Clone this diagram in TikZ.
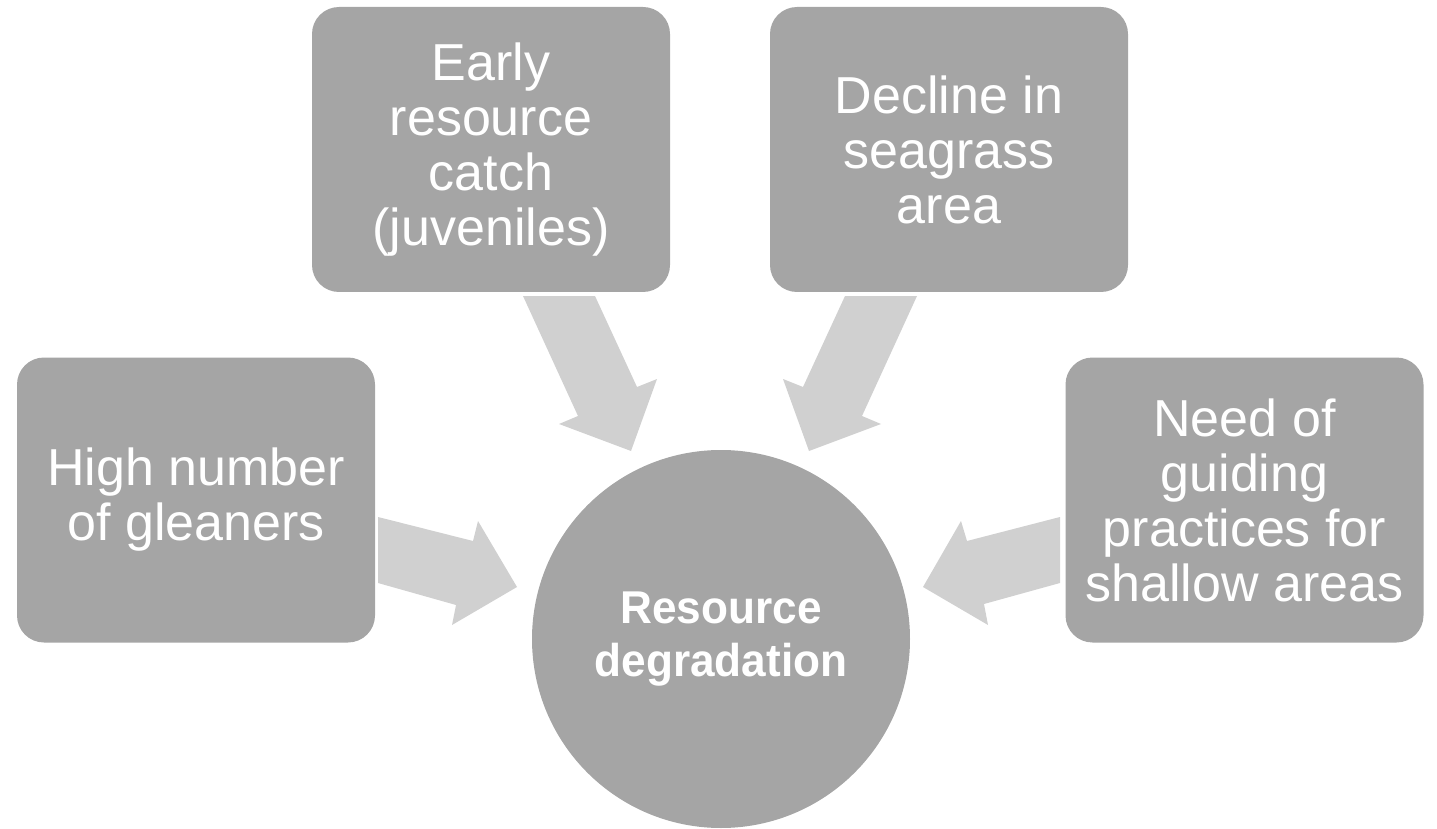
\documentclass[tikz,border=0pt]{standalone}
\usepackage{fontspec}
\setmainfont{Liberation Sans}
\newfontfamily\hubfont[FakeStretch=0.96]{Liberation Sans}
\definecolor{boxgray}{HTML}{A5A5A5}
\definecolor{arrowgray}{HTML}{D0D0D0}
\begin{document}
\begin{tikzpicture}[x=0.5pt,y=-0.5pt,
  box/.style={draw=none, fill=boxgray, rounded corners=13.5pt,
    minimum width=179pt, minimum height=142.5pt, inner sep=0pt,
    align=center, text=white, font=\fontsize{26}{27.5}\selectfont},
  hub/.style={circle, draw=none, fill=boxgray, minimum size=189pt, inner sep=0pt,
    align=center, text=white, font=\hubfont\bfseries\fontsize{23}{26.5}\selectfont},
  blockarrow/.style={fill=arrowgray, draw=none}]
\useasboundingbox (0,0) rectangle (1437,829);

% block arrows
\fill[blockarrow] (523,296) -- (595,296) -- (637,387) -- (657,379) -- (631,451) -- (559,424) -- (578,416) -- cycle;
\fill[blockarrow] (845,296) -- (917,296) -- (862,416) -- (881,424) -- (809,451) -- (783,379) -- (803,387) -- cycle;
\fill[blockarrow] (378,517) -- (473,541) -- (478,521) -- (517,587) -- (452,625) -- (456,605) -- (378,583) -- cycle;
\fill[blockarrow] (1060,517) -- (967,541) -- (961,521) -- (923,587) -- (988,625) -- (984,604) -- (1060,583) -- cycle;

% nodes
\node[box] (early) at (491,149.5) {Early\\resource\\catch\\(juveniles)};
\node[box] (decline) at (949,149.5) {Decline in\\seagrass\\area};
\node[box] (high) at (196,500) {High number\\of gleaners};
\node[box] (need) at (1244.5,500) {Need of\\guiding\\practices for\\shallow areas};
\node[hub] (res) at (721,639) {Resource\\degradation};
\end{tikzpicture}
\end{document}
